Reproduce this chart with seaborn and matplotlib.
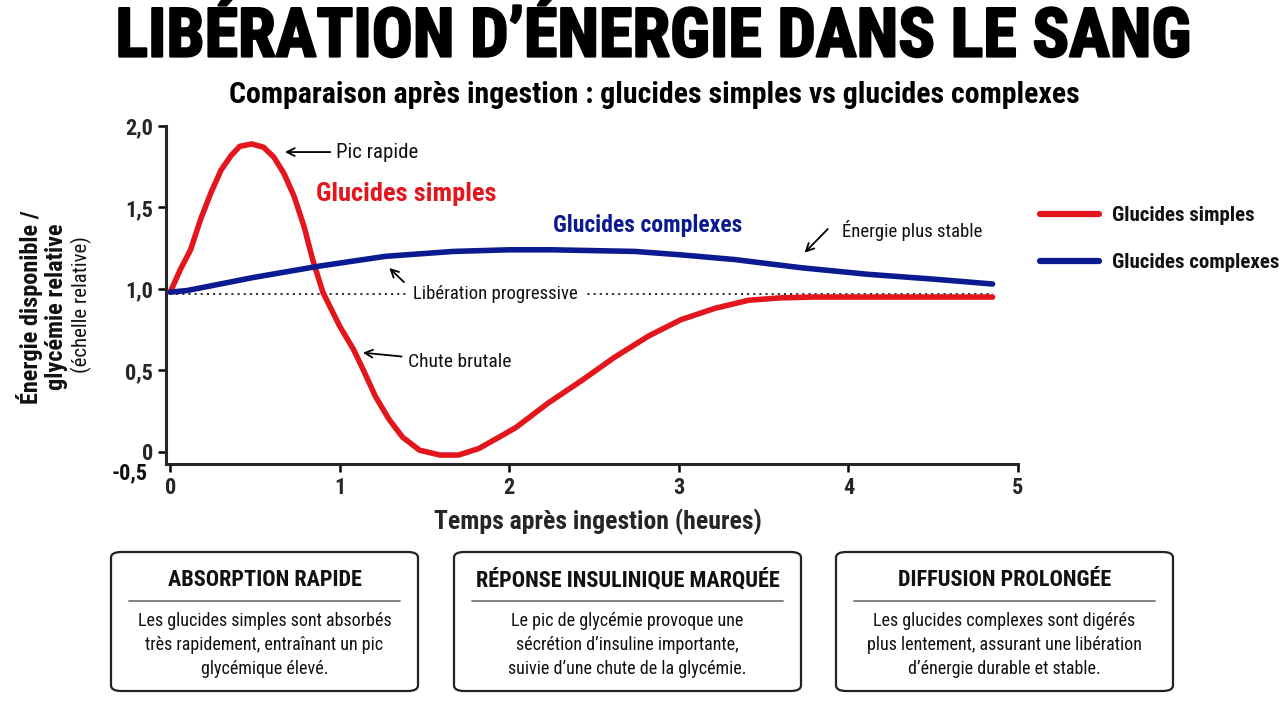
import pandas as pd
import matplotlib.pyplot as plt
import matplotlib.patheffects as pe
import seaborn as sns
from matplotlib.patches import FancyBboxPatch
from matplotlib.lines import Line2D

# Values
t_simple = [0, 0.06, 0.12, 0.18, 0.24, 0.30, 0.36, 0.41, 0.48, 0.55, 0.61, 0.67, 0.73,
            0.79, 0.84, 0.90, 1.00, 1.08, 1.14, 1.21, 1.29, 1.37, 1.47, 1.59, 1.70, 1.82,
            1.94, 2.04, 2.23, 2.43, 2.62, 2.82, 3.01, 3.21, 3.41, 3.60, 3.80, 4.20, 4.85]
v_simple = [0.98, 1.12, 1.24, 1.43, 1.59, 1.73, 1.82, 1.875, 1.89, 1.87, 1.81, 1.71, 1.57,
            1.38, 1.18, 0.98, 0.77, 0.63, 0.50, 0.34, 0.20, 0.09, 0.01, -0.02, -0.02, 0.02,
            0.09, 0.15, 0.30, 0.44, 0.58, 0.71, 0.81, 0.88, 0.93, 0.945, 0.95, 0.95, 0.95]

t_complex = [0, 0.10, 0.49, 0.88, 1.27, 1.67, 2.00, 2.25, 2.74, 3.00, 3.33, 3.72, 4.11, 4.50, 4.85]
v_complex = [0.98, 0.99, 1.07, 1.14, 1.20, 1.23, 1.24, 1.24, 1.23, 1.21, 1.18, 1.13, 1.09, 1.06, 1.03]

series_names = ['Glucides simples', 'Glucides complexes']
colors = {'Glucides simples': '#e2161c', 'Glucides complexes': '#0c1a92'}
ref_level = 0.97

y_ticks = [0, 0.5, 1.0, 1.5, 2.0]
y_ticklabels = ['0', '0,5', '1,0', '1,5', '2,0']
x_ticks = [0, 1, 2, 3, 4, 5]

boxes = [
    ('ABSORPTION RAPIDE',
     'Les glucides simples sont absorbés\ntrès rapidement, entraînant un pic\nglycémique élevé.'),
    ('RÉPONSE INSULINIQUE MARQUÉE',
     'Le pic de glycémie provoque une\nsécrétion d’insuline importante,\nsuivie d’une chute de la glycémie.'),
    ('DIFFUSION PROLONGÉE',
     'Les glucides complexes sont digérés\nplus lentement, assurant une libération\nd’énergie durable et stable.'),
]

df = pd.concat([
    pd.DataFrame({'t': t_simple, 'v': v_simple, 'serie': series_names[0]}),
    pd.DataFrame({'t': t_complex, 'v': v_complex, 'serie': series_names[1]}),
])

sns.set_style('ticks')
plt.rcParams['font.family'] = ['Roboto Condensed', 'DejaVu Sans']
plt.rcParams['text.color'] = '#111111'

fig = plt.figure(figsize=(12.8, 7.02), dpi=100)
ax = fig.add_axes([166 / 1280, 1 - 464 / 702, (1018 - 166) / 1280, (464 - 126) / 702])

ax.plot([0, 4.85], [ref_level, ref_level], color='#222222', lw=1.3, ls=(0, (1.2, 2.2)), zorder=1)

sns.lineplot(data=df, x='t', y='v', hue='serie', palette=colors, lw=4, legend=False,
             ax=ax, zorder=3, sort=False)
for ln in ax.lines[1:]:
    ln.set_solid_capstyle('round')
    ln.set_solid_joinstyle('round')

ax.set_xlim(-0.025, 5.0)
ax.set_ylim(-0.075, 2.0)
ax.set_yticks(y_ticks)
ax.set_yticklabels(y_ticklabels)
ax.set_xticks(x_ticks)
ax.tick_params(axis='both', labelsize=16, width=1.8, length=6, color='black')
for lab in ax.get_xticklabels() + ax.get_yticklabels():
    lab.set_fontweight('bold')
ax.text(-0.022, -0.135, '-0,5', transform=ax.get_yaxis_transform(), ha='right', va='center',
        fontsize=16, fontweight='bold')
sns.despine(ax=ax)
for s in ['left', 'bottom']:
    ax.spines[s].set_linewidth(2.2)
ax.set_xlabel('Temps après ingestion (heures)', fontsize=18.5, fontweight='bold')
ax.xaxis.set_label_coords(0.507, -0.132)
ax.set_ylabel('')

# in-plot labels and arrows
ax.text(0.86, 1.58, 'Glucides simples', color=colors['Glucides simples'], fontsize=19,
        fontweight='bold', va='center')
ax.text(2.26, 1.39, 'Glucides complexes', color=colors['Glucides complexes'], fontsize=17,
        fontweight='bold', va='center')
ax.text(1.92, ref_level, 'Libération progressive', fontsize=13.5, ha='center', va='center',
        bbox=dict(fc='white', ec='none', pad=4), zorder=2)

arrow = dict(arrowstyle='->', color='black', lw=1.3, mutation_scale=14)
ax.annotate('Pic rapide', xy=(0.66, 1.84), xytext=(0.98, 1.84), fontsize=15,
            va='center', arrowprops=arrow)
ax.annotate('', xy=(1.28, 1.14), xytext=(1.39, 1.03), arrowprops=arrow)
ax.annotate('Chute brutale', xy=(1.12, 0.61), xytext=(1.40, 0.55), fontsize=14,
            va='center', arrowprops=arrow)
ax.annotate('', xy=(3.73, 1.21), xytext=(3.89, 1.38), arrowprops=arrow)
ax.text(3.96, 1.36, 'Énergie plus stable', fontsize=13.5, va='center')

# legend
handles = [Line2D([], [], color=colors[n], lw=4.5, solid_capstyle='round') for n in series_names]
fig.legend(handles, series_names, loc='upper left', bbox_to_anchor=(1040 / 1280, 1 - 206 / 702),
           frameon=False, borderpad=0, borderaxespad=0, handlelength=2.85, handletextpad=0.6,
           labelspacing=1.35, prop=dict(size=15, weight='bold'))

# titles
fig.text(0.51, 1 - 38 / 702, 'LIBÉRATION D’ÉNERGIE DANS LE SANG', ha='center', va='center',
         fontsize=49, fontweight='bold', color='black',
         path_effects=[pe.withStroke(linewidth=1.6, foreground='black')])
fig.text(0.511, 1 - 95 / 702, 'Comparaison après ingestion : glucides simples vs glucides complexes',
         ha='center', va='center', fontsize=21.5, fontweight='bold', color='black')

# y label
fig.text(30 / 1280, 1 - 307 / 702, 'Énergie disponible /', rotation=90, ha='center', va='center',
         fontsize=17.5, fontweight='bold')
fig.text(56 / 1280, 1 - 307 / 702, 'glycémie relative', rotation=90, ha='center', va='center',
         fontsize=17.5, fontweight='bold')
fig.text(81 / 1280, 1 - 305 / 702, '(échelle relative)', rotation=90, ha='center', va='center',
         fontsize=15)

# bottom boxes
box_x = [(111, 418), (454, 801), (836, 1173)]
y0, y1 = 552, 691
for (x0, x1), (head, body) in zip(box_x, boxes):
    fig.patches.append(FancyBboxPatch((x0 / 1280, 1 - y1 / 702), (x1 - x0) / 1280, (y1 - y0) / 702,
                                      boxstyle='round,pad=0,rounding_size=0.008',
                                      transform=fig.transFigure, fc='white', ec='#222222', lw=1.6))
    xc = (x0 + x1) / 2 / 1280
    fig.text(xc, 1 - 580 / 702, head, ha='center', va='center', fontsize=16, fontweight='bold')
    fig.lines.append(Line2D([(x0 + 18) / 1280, (x1 - 18) / 1280], [1 - 601 / 702, 1 - 601 / 702],
                            transform=fig.transFigure, color='#777777', lw=1.3))
    fig.text(xc, 1 - 645 / 702, body, ha='center', va='center', fontsize=13, linespacing=1.45)

fig.savefig('out.png', dpi=100)
